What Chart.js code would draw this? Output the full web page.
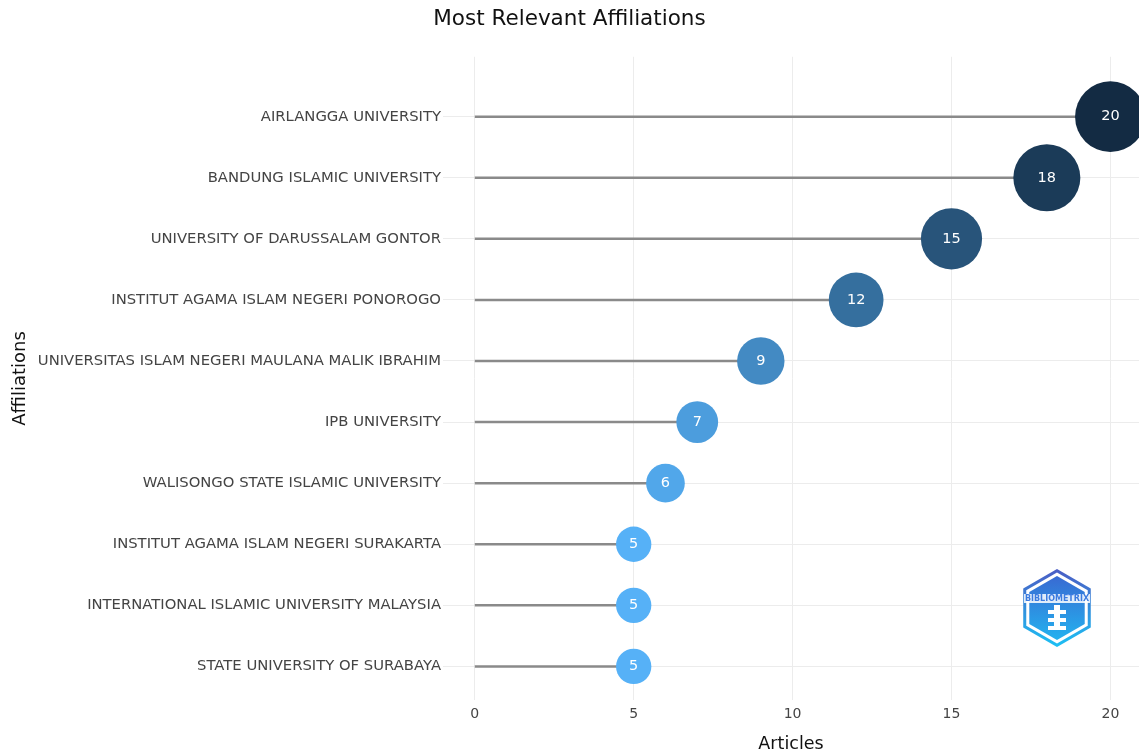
<!DOCTYPE html>
<html>
<head>
<meta charset="utf-8">
<script src="https://cdn.jsdelivr.net/npm/chart.js@4"></script>
<style>
  html, body { margin: 0; padding: 0; background: #fff; }
  #wrap { width: 1139px; height: 755px; }
</style>
</head>
<body>
<div id="wrap"><canvas id="affChart" width="1139" height="755"></canvas></div>
<script>
// data
const affiliations = [
    "AIRLANGGA UNIVERSITY",
    "BANDUNG ISLAMIC UNIVERSITY",
    "UNIVERSITY OF DARUSSALAM GONTOR",
    "INSTITUT AGAMA ISLAM NEGERI PONOROGO",
    "UNIVERSITAS ISLAM NEGERI MAULANA MALIK IBRAHIM",
    "IPB UNIVERSITY",
    "WALISONGO STATE ISLAMIC UNIVERSITY",
    "INSTITUT AGAMA ISLAM NEGERI SURAKARTA",
    "INTERNATIONAL ISLAMIC UNIVERSITY MALAYSIA",
    "STATE UNIVERSITY OF SURABAYA"
];
const articles = [20, 18, 15, 12, 9, 7, 6, 5, 5, 5];
const xTicks = [0, 5, 10, 15, 20];

const FONT = "'DejaVu Sans', Verdana, sans-serif";

// colour gradient in Lab space, light blue (few) -> dark navy (many)
function toLab(rgb) {
    const lin = rgb.map(c => { c /= 255; return c > 0.04045 ? Math.pow((c + 0.055) / 1.055, 2.4) : c / 12.92; });
    const X = (lin[0] * 0.4124 + lin[1] * 0.3576 + lin[2] * 0.1805) / 0.95047;
    const Y = (lin[0] * 0.2126 + lin[1] * 0.7152 + lin[2] * 0.0722);
    const Z = (lin[0] * 0.0193 + lin[1] * 0.1192 + lin[2] * 0.9505) / 1.08883;
    const f = t => t > 0.008856 ? Math.cbrt(t) : 7.787 * t + 16 / 116;
    return [116 * f(Y) - 16, 500 * (f(X) - f(Y)), 200 * (f(Y) - f(Z))];
}
function fromLab(lab) {
    const fy = (lab[0] + 16) / 116, fx = fy + lab[1] / 500, fz = fy - lab[2] / 200;
    const g = t => t * t * t > 0.008856 ? t * t * t : (t - 16 / 116) / 7.787;
    const X = g(fx) * 0.95047, Y = g(fy), Z = g(fz) * 1.08883;
    const lin = [
        X * 3.2406 + Y * -1.5372 + Z * -0.4986,
        X * -0.9689 + Y * 1.8758 + Z * 0.0415,
        X * 0.0557 + Y * -0.2040 + Z * 1.0570
    ];
    return lin.map(c => {
        c = c > 0.0031308 ? 1.055 * Math.pow(c, 1 / 2.4) - 0.055 : 12.92 * c;
        return Math.max(0, Math.min(255, Math.round(c * 255)));
    });
}
function colorFor(v) {
    const lo = toLab([86, 177, 247]), hi = toLab([19, 43, 67]);
    const vmin = Math.min(...articles), vmax = Math.max(...articles);
    const t = (v - vmin) / (vmax - vmin);
    const c = fromLab(lo.map((l, i) => l + (hi[i] - l) * t));
    return `rgb(${c[0]},${c[1]},${c[2]})`;
}

const points = articles.map((v, i) => ({ x: v, y: i }));

const stems = articles.map((v, i) => ({
    type: 'line',
    data: [{ x: 0, y: i }, { x: v, y: i }],
    borderColor: '#8a8a8a',
    borderWidth: 2.5,
    pointRadius: 0,
    order: 2
}));

const bubbleLabels = {
    id: 'bubbleLabels',
    afterDatasetsDraw(chart) {
        const ctx = chart.ctx;
        const meta = chart.getDatasetMeta(0);
        ctx.save();
        ctx.fillStyle = '#ffffff';
        ctx.font = "14.5px " + FONT;
        ctx.textAlign = 'center';
        ctx.textBaseline = 'middle';
        meta.data.forEach((el, i) => {
            ctx.fillText(String(articles[i]), el.x, el.y);
        });
        ctx.restore();
    }
};

// small watermark badge in the lower right corner
const badge = {
    id: 'badge',
    afterDraw(chart) {
        const ctx = chart.ctx;
        const a = chart.chartArea;
        const cx = a.right - 82, cy = a.bottom - 92, R = 39;
        ctx.save();
        const hex = (r) => {
            ctx.beginPath();
            for (let k = 0; k < 6; k++) {
                const ang = -Math.PI / 2 + k * Math.PI / 3;
                ctx.lineTo(cx + r * Math.cos(ang), cy + r * Math.sin(ang));
            }
            ctx.closePath();
        };
        let g = ctx.createLinearGradient(0, cy - R, 0, cy + R);
        g.addColorStop(0, '#4b5cc4');
        g.addColorStop(1, '#1cc0f4');
        hex(R);
        ctx.fillStyle = g;
        ctx.fill();
        hex(R - 3.5);
        ctx.fillStyle = '#ffffff';
        ctx.fill();
        g = ctx.createLinearGradient(0, cy - R, 0, cy + R);
        g.addColorStop(0, '#3b62cf');
        g.addColorStop(1, '#21b9f2');
        hex(R - 7);
        ctx.fillStyle = g;
        ctx.fill();
        ctx.fillStyle = 'rgba(255,255,255,0.85)';
        ctx.fillRect(cx - 33, cy - 14, 66, 9);
        ctx.fillStyle = '#3b7be0';
        ctx.font = "bold 8px " + FONT;
        ctx.textAlign = 'center';
        ctx.textBaseline = 'middle';
        ctx.fillText('BIBLIOMETRIX', cx, cy - 9.5);
        ctx.fillStyle = '#ffffff';
        ctx.fillRect(cx - 3, cy - 3, 6, 24);
        ctx.fillRect(cx - 9, cy + 2, 18, 4);
        ctx.fillRect(cx - 9, cy + 10, 18, 4);
        ctx.fillRect(cx - 9, cy + 18, 18, 4);
        ctx.restore();
    }
};

const chart = new Chart(document.getElementById('affChart'), {
    data: {
        datasets: [
            {
                type: 'bubble',
                data: points,
                backgroundColor: points.map(p => colorFor(p.x)),
                borderWidth: 0,
                radius: ctx => 7.9 * Math.sqrt(articles[ctx.dataIndex]),
                hoverRadius: 0,
                clip: false,
                order: 1
            },
            ...stems
        ]
    },
    options: {
        responsive: false,
        animation: false,
        layout: { autoPadding: false, padding: 0 },
        plugins: {
            legend: { display: false },
            tooltip: { enabled: false },
            title: {
                display: true,
                text: 'Most Relevant Affiliations',
                color: '#111',
                font: { family: FONT, size: 21.5, weight: 'normal', lineHeight: 1.2 },
                padding: { top: 7, bottom: 24 }
            }
        },
        scales: {
            x: {
                type: 'linear',
                min: -1,
                max: 20.9,
                afterBuildTicks: s => { s.ticks = xTicks.map(v => ({ value: v })); },
                afterFit: s => { s.height = 55; },
                grid: { color: '#ececec', drawTicks: false },
                border: { display: false },
                ticks: { color: '#444', padding: 6, font: { family: FONT, size: 14 } },
                title: {
                    display: true,
                    text: 'Articles',
                    color: '#111',
                    font: { family: FONT, size: 17.5 },
                    padding: { top: 6, bottom: 0 }
                }
            },
            y: {
                type: 'linear',
                reverse: true,
                min: -0.98,
                max: 9.55,
                afterBuildTicks: s => { s.ticks = affiliations.map((_, i) => ({ value: i })); },
                afterFit: s => { s.width = 443; },
                grid: { color: '#ececec', drawTicks: false },
                border: { display: false },
                ticks: {
                    color: '#444',
                    padding: 2,
                    font: { family: FONT, size: 14.8 },
                    callback: v => affiliations[v]
                },
                title: {
                    display: true,
                    text: 'Affiliations',
                    color: '#111',
                    font: { family: FONT, size: 18 },
                    padding: { top: 10, bottom: 0 }
                }
            }
        }
    },
    plugins: [bubbleLabels, badge]
});
</script>
</body>
</html>
